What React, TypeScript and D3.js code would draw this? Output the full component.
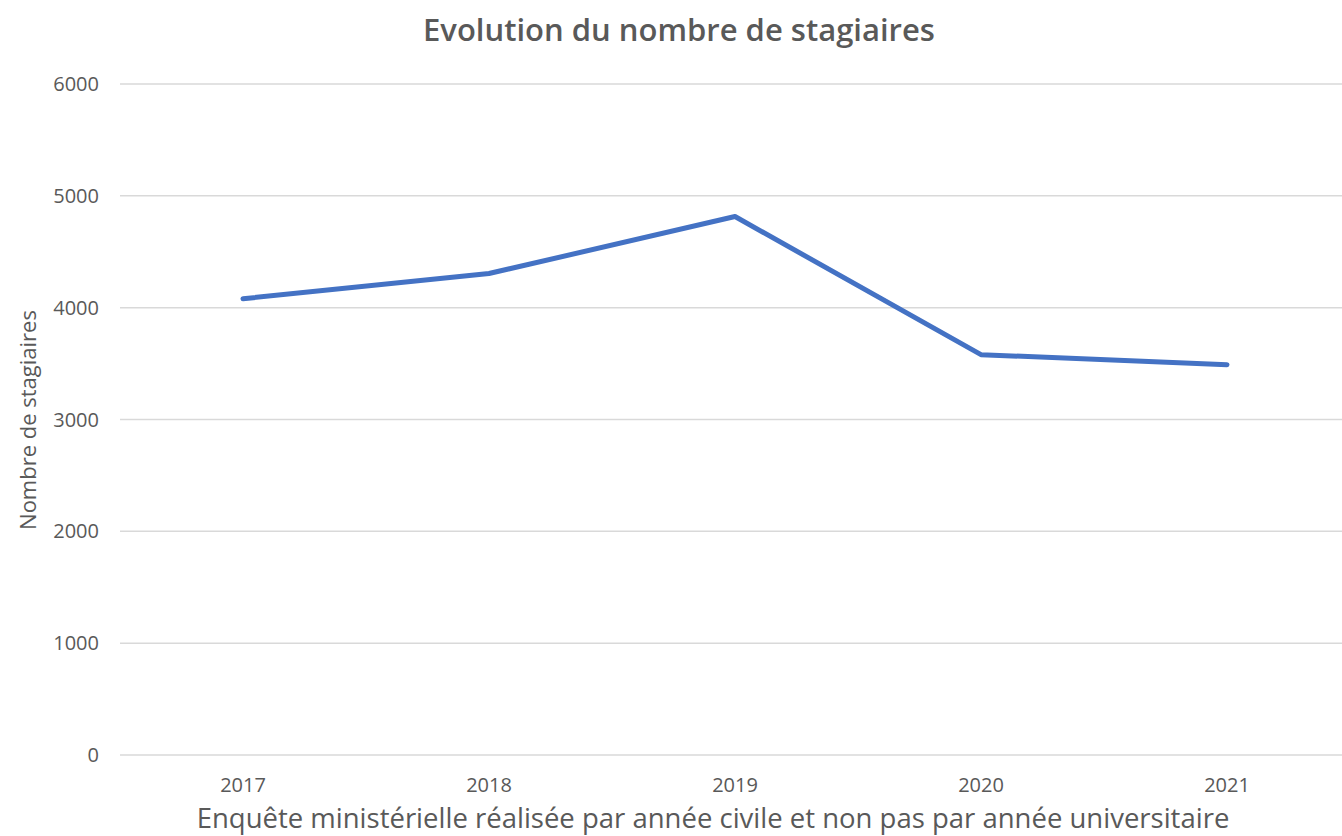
import React from "react";
import * as d3 from "d3";

const years = ["2017", "2018", "2019", "2020", "2021"];
const stagiaires = [4080, 4305, 4815, 3580, 3490];
const yTicks = [0, 1000, 2000, 3000, 4000, 5000, 6000];

const W = 1342;
const H = 836;

export default function App() {
  const x = d3.scaleBand().domain(years).range([120, 1350]);
  const y = d3.scaleLinear().domain([0, 6000]).range([755, 84]);
  const line = d3
    .line<number>()
    .x((_, i) => (x(years[i]) as number) + x.bandwidth() / 2)
    .y((d) => y(d));
  const font = "'Open Sans', 'Noto Sans', sans-serif";
  const txt = "#595959";
  return (
    <svg
      width={W}
      height={H}
      style={{ position: "absolute", left: 0, top: 0, background: "#fff" }}
      fontFamily={font}
    >
      <text x={679} y={41} textAnchor="middle" fontSize={31} fontWeight={600} fill={txt}>
        Evolution du nombre de stagiaires
      </text>
      {yTicks.map((t) => (
        <g key={t}>
          <line x1={120} x2={1342} y1={y(t)} y2={y(t)} stroke="#d9d9d9" strokeWidth={1.5} />
          <text x={99} y={y(t)} dy="0.35em" textAnchor="end" fontSize={20} fill={txt}>
            {t}
          </text>
        </g>
      ))}
      {years.map((yr) => (
        <text
          key={yr}
          x={(x(yr) as number) + x.bandwidth() / 2}
          y={792}
          textAnchor="middle"
          fontSize={20}
          fill={txt}
        >
          {yr}
        </text>
      ))}
      <text
        transform="translate(36,420) rotate(-90)"
        textAnchor="middle"
        fontSize={22}
        fill={txt}
      >
        Nombre de stagiaires
      </text>
      <text x={713} y={828} textAnchor="middle" fontSize={27.5} fill={txt}>
        Enquête ministérielle réalisée par année civile et non pas par année universitaire
      </text>
      <path
        d={line(stagiaires) || ""}
        fill="none"
        stroke="#4472C4"
        strokeWidth={5}
        strokeLinejoin="round"
        strokeLinecap="round"
      />
    </svg>
  );
}
